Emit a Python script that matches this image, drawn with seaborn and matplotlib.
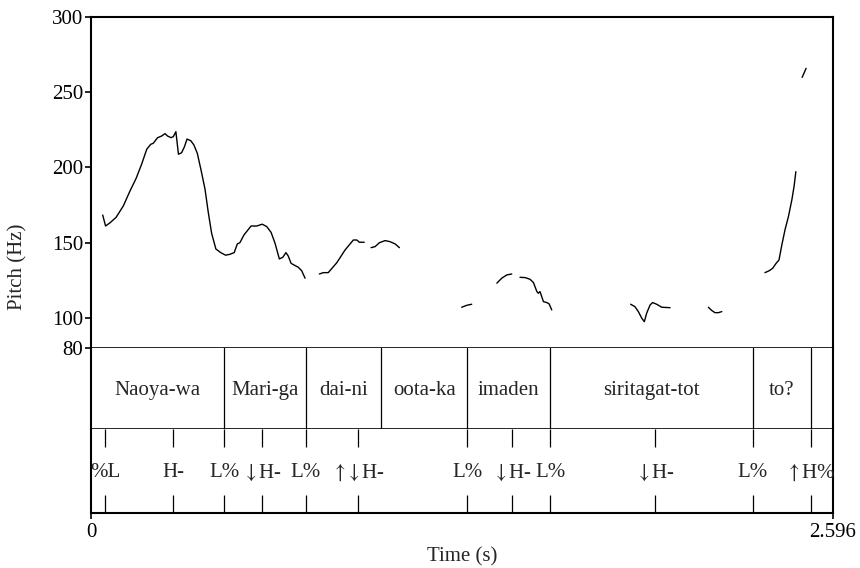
import pandas as pd
import matplotlib
matplotlib.use('Agg')
import matplotlib.pyplot as plt
import seaborn as sns

# pitch track, one pair of lists per voiced stretch (time in s, pitch in Hz)
seg1_t = [0.041, 0.051, 0.067, 0.088, 0.113, 0.137, 0.158, 0.177, 0.195, 0.209, 0.218,
          0.233, 0.247, 0.259, 0.268, 0.280, 0.288, 0.297, 0.306, 0.317, 0.327, 0.336,
          0.349, 0.360, 0.372, 0.385, 0.399, 0.410, 0.422, 0.437, 0.454, 0.471, 0.486,
          0.501, 0.512, 0.521, 0.535, 0.560, 0.580, 0.599, 0.615, 0.630, 0.644, 0.659,
          0.671, 0.682, 0.690, 0.700, 0.714, 0.725, 0.737, 0.749]
seg1_hz = [168.4, 161.1, 163.3, 166.9, 174.4, 184.6, 192.8, 202.1, 212.1, 215.4, 216.1,
           219.8, 220.9, 222.5, 220.9, 219.8, 220.5, 223.8, 208.8, 209.8, 213.8, 218.9,
           217.8, 215.0, 209.4, 198.3, 185.5, 170.6, 156.3, 145.8, 143.4, 141.7, 142.3,
           143.4, 149.2, 150.0, 155.1, 161.1, 161.1, 162.3, 160.7, 156.9, 149.6, 139.2,
           140.3, 143.4, 141.2, 136.3, 134.8, 133.7, 131.4, 126.4]
seg2_t = [0.799, 0.813, 0.830, 0.860, 0.889, 0.918, 0.930, 0.939, 0.956]
seg2_hz = [129.2, 130.1, 130.1, 136.7, 145.2, 151.8, 151.8, 150.3, 150.3]
seg3_t = [0.980, 0.994, 1.009, 1.029, 1.046, 1.064, 1.079]
seg3_hz = [146.7, 147.4, 150.0, 151.4, 150.7, 149.2, 146.7]
seg4_t = [1.297, 1.315, 1.332]
seg4_hz = [107.1, 108.4, 109.1]
seg5_t = [1.420, 1.437, 1.455, 1.472]
seg5_hz = [123.1, 126.4, 128.6, 129.2]
seg6_t = [1.501, 1.519, 1.536, 1.548, 1.560, 1.565, 1.571, 1.583, 1.595, 1.603, 1.612]
seg6_hz = [127.0, 126.8, 125.7, 123.5, 117.5, 116.4, 117.5, 110.8, 110.2, 109.3, 105.3]
seg7_t = [1.888, 1.903, 1.915, 1.927, 1.936, 1.944, 1.956, 1.965, 1.979, 1.997, 2.026]
seg7_hz = [109.1, 107.5, 104.2, 99.8, 97.5, 103.1, 108.6, 110.2, 109.1, 107.1, 106.8]
seg8_t = [2.160, 2.172, 2.183, 2.195, 2.207]
seg8_hz = [107.1, 104.9, 103.5, 103.5, 104.2]
seg9_t = [2.358, 2.373, 2.385, 2.397, 2.407, 2.417, 2.428, 2.440, 2.452, 2.460, 2.466]
seg9_hz = [130.1, 131.4, 133.0, 136.3, 138.5, 148.5, 158.5, 167.3, 178.4, 187.7, 197.2]
seg10_t = [2.488, 2.502]
seg10_hz = [259.9, 265.9]

t_end = 2.596
y_ticks = [80, 100, 150, 200, 250, 300]

# word tier
word_bounds = [0, 0.466, 0.751, 1.015, 1.317, 1.607, 2.315, 2.518, 2.596]
word_labels = ['Naoya-wa', 'Mari-ga', 'dai-ni', 'oota-ka', 'imaden', 'siritagat-tot', 'to?', '']

# tone tier (arrows through mathtext so they come out tall and thin like the original)
tone_times = [0.049, 0.287, 0.466, 0.597, 0.751, 0.934, 1.317, 1.472, 1.607, 1.973, 2.315, 2.518]
tone_labels = ['%L', 'H-', 'L%', r'$\downarrow$H-', 'L%', r'$\uparrow\!\downarrow$H-', 'L%',
               r'$\downarrow$H-', 'L%', r'$\downarrow$H-', 'L%', r'$\uparrow$H%']

sns.set_style('ticks')
plt.rcParams['font.family'] = ['Liberation Serif', 'DejaVu Serif']
plt.rcParams['font.size'] = 15
plt.rcParams['mathtext.fontset'] = 'stix'

runs = [(seg1_t, seg1_hz), (seg2_t, seg2_hz), (seg3_t, seg3_hz), (seg4_t, seg4_hz),
        (seg5_t, seg5_hz), (seg6_t, seg6_hz), (seg7_t, seg7_hz), (seg8_t, seg8_hz),
        (seg9_t, seg9_hz), (seg10_t, seg10_hz)]
pitch = pd.concat([pd.DataFrame({'time': t, 'pitch': hz, 'run': i})
                   for i, (t, hz) in enumerate(runs)], ignore_index=True)

fig = plt.figure(figsize=(8.6, 5.68), dpi=100)
ax = fig.add_axes([0.1058, 0.3873, 0.8628, 0.5827])
ax_w = fig.add_axes([0.1058, 0.2447, 0.8628, 0.1426], sharex=ax)
ax_t = fig.add_axes([0.1058, 0.0968, 0.8628, 0.1479], sharex=ax)

sns.lineplot(data=pitch, x='time', y='pitch', units='run', estimator=None,
             color='black', lw=1.0, ax=ax, legend=False)
ax.set_xlim(0, t_end)
ax.set_ylim(80, 300)
ax.set_yticks(y_ticks)
ax.set_xlabel('')
ax.set_ylabel('')
ax.tick_params(axis='x', bottom=False, labelbottom=False)
ax.tick_params(axis='y', length=4.5, width=1.2, pad=1, colors='black')

# words
for b in word_bounds[1:-1]:
    ax_w.axvline(b, color='black', lw=0.9)
for i, lab in enumerate(word_labels):
    mid = (word_bounds[i] + word_bounds[i + 1]) / 2
    ax_w.text(mid, 0.47, lab, ha='center', va='center', transform=ax_w.get_xaxis_transform())
ax_w.set_yticks([])
ax_w.tick_params(axis='x', bottom=False, labelbottom=False)

# tones
tr = ax_t.get_xaxis_transform()
ax_t.vlines(tone_times, 0.79, 1.0, transform=tr, color='black', lw=0.9)
ax_t.vlines(tone_times, 0.0, 0.21, transform=tr, color='black', lw=0.9)
for tt, lab in zip(tone_times, tone_labels):
    ax_t.text(tt, 0.48, lab, ha='center', va='center', transform=tr)
ax_t.set_yticks([])
ax_t.set_xticks([0, t_end])
ax_t.set_xticklabels(['0', '2.596'])
ax_t.tick_params(axis='x', length=4.5, width=1.2, pad=3, colors='black')

for a in (ax, ax_w, ax_t):
    for s in a.spines.values():
        s.set_color('black')
        s.set_linewidth(1.5)
ax.spines['bottom'].set_linewidth(1.2)
ax_w.spines['top'].set_visible(False)
ax_w.spines['bottom'].set_linewidth(1.2)
ax_t.spines['top'].set_visible(False)

fig.text(0.021, 0.53, 'Pitch (Hz)', rotation=90, ha='center', va='center')
fig.text(0.537, 0.019, 'Time (s)', ha='center', va='center')

fig.savefig('out.png', dpi=100)
